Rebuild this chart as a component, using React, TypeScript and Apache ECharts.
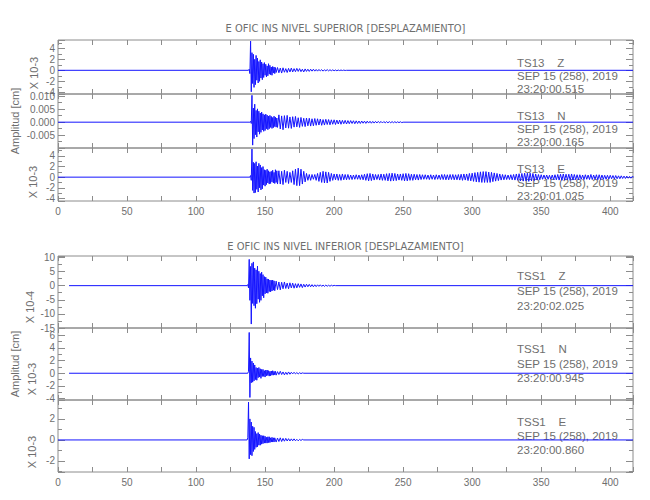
import React, { useEffect, useRef } from "react";
import * as echarts from "echarts";

// ---------------- data ----------------
const groupTitles = [
  "E OFIC INS NIVEL SUPERIOR [DESPLAZAMIENTO]",
  "E OFIC INS NIVEL INFERIOR [DESPLAZAMIENTO]",
];
const stationLabels = [
  "TS13\u00a0\u00a0\u00a0\u00a0Z",
  "TS13\u00a0\u00a0\u00a0\u00a0N",
  "TS13\u00a0\u00a0\u00a0\u00a0E",
  "TSS1\u00a0\u00a0\u00a0\u00a0Z",
  "TSS1\u00a0\u00a0\u00a0\u00a0N",
  "TSS1\u00a0\u00a0\u00a0\u00a0E",
];
const dateLabels = [
  "SEP 15 (258), 2019",
  "SEP 15 (258), 2019",
  "SEP 15 (258), 2019",
  "SEP 15 (258), 2019",
  "SEP 15 (258), 2019",
  "SEP 15 (258), 2019",
];
const timeLabels = [
  "23:20:00.515",
  "23:20:00.165",
  "23:20:01.025",
  "23:20:02.025",
  "23:20:00.945",
  "23:20:00.860",
];
const multiplierLabels = ["X 10-3", "", "X 10-3", "X 10-4", "X 10-3", "X 10-3"];
const yAxisTitle = "Amplitud [cm]";

const xMin = 0;
const xMax = 416.5;
const xTickStep = 25;
const xLabelStep = 50;
const xLabelMax = 400;

const yMins = [-4.3, -0.0099, -4.5, -15, -4.2, -3.05];
const yMaxs = [5.5, 0.0108, 5.5, 10.5, 7.1, 3.8];
const yMajorSteps = [2, 0.005, 2, 5, 2, 2];
const yDecimals = [0, 3, 0, 0, 0, 0];

// trace start times, onsets (0.5 s sampling), coda starts (1 s sampling)
const traceStarts = [0, 0, 0, 8, 8, 0];
const strongOnsets = [138.5, 139.5, 139.5, 137.5, 138, 137.5];
const codaStarts = [159, 160, 160, 158, 158, 158];
const valueScales = [1, 0.001, 1, 1, 1, 1];

const ts13ZStrong = [0.2,-0.6,5.3,-3.9,3.2,-2.4,2.9,-3.1,2.0,-2.6,2.7,-1.8,2.2,-2.3,1.6,-2.0,1.9,-1.4,1.5,-1.7,1.2,-1.3,1.4,-0.9,1.1,-1.2,0.8,-1.0,1.2,-0.7,0.9,-0.8,0.6,-0.9,0.7,-0.5,0.6,-0.6,0.5,-0.4];
const ts13ZCoda = [0.5,-0.45,0.4,-0.5,0.45,-0.35,0.3,-0.4,0.35,-0.3,0.4,-0.3,0.3,-0.25,0.35,-0.2,0.3,-0.25,0.2,-0.3,0.25,-0.2,0.2,-0.2,0.2,-0.15,0.2,-0.15,0.15,-0.15,0.15,-0.12,0.12,-0.15,0.1,-0.1,0.12,-0.1,0.1,-0.08,0.08,-0.08,0.06,-0.08,0.05,-0.05,0.05,-0.04,0.04,-0.03];

const ts13NStrong = [0.3,-0.5,10.3,-8.8,5.4,-6.3,6.9,-4.8,4.5,-5.7,5.1,-3.7,4.2,-4.6,3.5,-3.9,3.9,-3.0,3.2,-3.5,2.8,-3.2,3.1,-2.5,2.7,-2.9,2.3,-2.5,2.6,-2.0,2.2,-2.4,1.8,-2.1,2.3,-1.7,1.9,-1.9,1.6,-2.0];
const ts13NCoda = [
  2.8,-2.6,2.4,-2.9,2.5,-2.2,2.6,-2.3,2.0,-2.4,
  2.1,-1.9,2.2,-1.8,1.7,-2.0,1.8,-1.6,1.5,-1.7,
  1.6,-1.4,1.5,-1.5,1.3,-1.4,1.4,-1.2,1.3,-1.1,
  1.2,-1.2,1.0,-1.1,1.1,-0.9,1.0,-1.0,0.9,-0.8,
  0.9,-0.9,0.8,-0.7,0.8,-0.8,0.7,-0.6,0.7,-0.7,
  0.6,-0.6,0.6,-0.5,0.55,-0.6,0.5,-0.5,0.45,-0.5,
  0.45,-0.4,0.4,-0.45,0.4,-0.35,0.35,-0.4,0.3,-0.35,
  0.3,-0.3,0.3,-0.25,0.28,-0.3,0.25,-0.25,0.22,-0.25,
  0.2,-0.22,0.2,-0.2,0.18,-0.2,0.15,-0.18,0.15,-0.15,
];

const ts13EStrong = [0.3,-0.6,5.3,-2.5,2.8,-3.0,2.6,-2.9,2.9,-2.3,2.1,-2.8,2.6,-2.0,2.3,-2.4,1.8,-2.2,2.0,-1.5,1.4,-1.7,1.3,-1.4,1.5,-1.1,1.2,-1.3,1.0,-1.2,1.1,-0.9,1.3,-1.1,0.9,-1.2,1.4,-1.0,1.2,-1.3];
const ts13ECoda = [
  1.2,-1.3,1.1,-1.4,1.3,-1.0,1.1,-1.2,0.9,-1.0,
  1.2,-1.4,1.5,-1.6,1.7,-1.6,1.5,-1.3,1.1,-0.9,
  0.7,-0.6,0.5,-0.6,0.5,-0.4,0.5,-0.6,0.7,-0.8,
  0.9,-1.0,1.1,-1.1,1.0,-1.1,0.9,-0.8,0.7,-0.6,
  0.6,-0.5,0.6,-0.6,0.5,-0.6,0.6,-0.5,0.5,-0.5,
  0.5,-0.45,0.4,-0.45,0.4,-0.4,0.45,-0.4,0.4,-0.45,
  0.45,-0.5,0.55,-0.6,0.65,-0.7,0.7,-0.65,0.6,-0.55,
  0.5,-0.45,0.5,-0.55,0.6,-0.6,0.55,-0.6,0.65,-0.7,
  0.7,-0.75,0.75,-0.7,0.7,-0.65,0.6,-0.55,0.6,-0.6,
  0.65,-0.7,0.7,-0.7,0.65,-0.6,0.55,-0.6,0.55,-0.5,
  0.5,-0.55,0.5,-0.45,0.45,-0.4,0.45,-0.4,0.4,-0.45,
  0.45,-0.4,0.4,-0.45,0.45,-0.4,0.4,-0.45,0.5,-0.45,
  0.5,-0.5,0.45,-0.5,0.5,-0.45,0.5,-0.5,0.45,-0.5,
  0.5,-0.55,0.55,-0.6,0.6,-0.55,0.6,-0.65,0.7,-0.7,
  0.75,-0.8,0.85,-0.9,0.9,-0.95,1.0,-1.0,1.05,-1.0,
  1.05,-1.0,0.95,-1.0,0.9,-0.85,0.8,-0.75,0.7,-0.65,
  0.6,-0.55,0.5,-0.5,0.45,-0.45,0.4,-0.45,0.45,-0.5,
  0.5,-0.55,0.6,-0.6,0.65,-0.7,0.7,-0.75,0.75,-0.7,
  0.75,-0.8,0.75,-0.7,0.7,-0.65,0.6,-0.55,0.5,-0.5,
  0.45,-0.4,0.4,-0.35,0.4,-0.4,0.35,-0.4,0.4,-0.45,
  0.45,-0.5,0.5,-0.55,0.55,-0.6,0.6,-0.55,0.55,-0.5,
  0.55,-0.6,0.6,-0.55,0.5,-0.5,0.45,-0.5,0.45,-0.4,
  0.4,-0.45,0.45,-0.4,0.4,-0.45,0.5,-0.45,0.4,-0.4,
  0.45,-0.5,0.45,-0.45,0.4,-0.4,0.35,-0.4,0.35,-0.35,
  0.35,-0.3,0.3,-0.35,0.3,-0.3,0.25,-0.3,0.25,-0.25,
  0.2,-0.25,0.2,-0.2,0.15,-0.2,0.15,
];

const tss1ZStrong = [0.4,-0.8,9.3,-5.2,6.8,-13.6,7.9,-6.3,8.4,-7.1,6.2,-8.0,5.6,-6.4,6.9,-4.8,5.1,-5.9,4.3,-5.2,4.8,-3.6,3.9,-4.3,3.2,-2.9,3.0,-2.6,2.4,-2.7,2.3,-2.1,2.0,-2.2,1.9,-1.9,2.0,-1.6,1.7,-1.8];
const tss1ZCoda = [1.6,-1.4,1.3,-1.5,1.2,-1.1,1.3,-1.0,0.9,-1.1,1.0,-0.8,0.9,-0.9,0.7,-0.8,0.7,-0.6,0.6,-0.7,0.5,-0.5,0.5,-0.4,0.45,-0.4,0.35,-0.4,0.3,-0.35,0.3,-0.25,0.3,-0.25,0.2,-0.25,0.2,-0.2,0.15,-0.2,0.15,-0.1,0.1];

const tss1NStrong = [0.3,6.4,-3.8,2.4,-1.5,1.9,-1.4,1.6,-1.2,1.3,-1.0,0.9,-1.1,0.8,-0.7,0.9,-0.6,0.7,-0.8,0.6,-0.5,0.6,-0.5,0.4,-0.6,0.5,-0.4,0.5,-0.35,0.4,-0.45,0.3,-0.4,0.35,-0.3,0.4,-0.3,0.3,-0.25,0.3];
const tss1NCoda = [-0.3,0.25,-0.2,0.3,-0.2,0.2,-0.25,0.15,-0.2,0.2,-0.15,0.15,-0.1,0.15,-0.1,0.1,-0.1,0.08,-0.06,0.05];

const tss1EStrong = [0.2,3.6,-1.8,2.0,-1.4,1.7,-1.5,1.3,-1.1,1.2,-0.9,0.8,-0.7,0.6,-0.65,0.7,-0.5,0.55,-0.5,0.45,-0.4,0.4,-0.35,0.4,-0.3,0.35,-0.3,0.25,-0.3,0.3,-0.25,0.3,-0.25,0.2,-0.2,0.25,-0.2,0.2,-0.2,0.2];
const tss1ECoda = [-0.2,0.18,-0.15,0.2,-0.15,0.15,-0.12,0.15,-0.1,0.12,-0.1,0.1,-0.08,0.1,-0.08,0.06,-0.08,0.05,-0.05,0.05];

const strongValues = [ts13ZStrong, ts13NStrong, ts13EStrong, tss1ZStrong, tss1NStrong, tss1EStrong];
const codaValues = [ts13ZCoda, ts13NCoda, ts13ECoda, tss1ZCoda, tss1NCoda, tss1ECoda];

// ---------------- layout / style ----------------
const GRID_LEFT = 58;
const GRID_WIDTH = 575;
const PANEL_TOPS = [40, 94, 148, 256, 328, 400];
const PANEL_HEIGHTS = [54, 54, 53, 72, 72, 72];
const LABELLED_X = [false, false, true, false, false, true];
const STRONG_STEP = 0.5;
const CODA_STEP = 1;
const AXIS_COLOR = "#8c8c8c";
const TEXT_COLOR = "#6e6e6e";
const TRACE_COLOR = "#1414ff";
const FONT = "'Liberation Sans', Arial, sans-serif";
const TITLE_FONT = "'Liberation Sans Narrow', 'DejaVu Sans Condensed', sans-serif";
const TITLE_Y = [28, 246];
const ANNOT_X = 517;
const ANNOT_Y = [
  [63, 76, 89],
  [116, 129, 142],
  [169, 183, 196],
  [276, 291, 306],
  [349, 364, 378],
  [422, 436, 450],
];
const MULT_X = [34, 34, 33, 30, 32, 32];
const MULT_Y = [73, 0, 182, 307, 379, 452];
const AMP_X = 15;
const AMP_Y = [121, 364];

function buildTrace(i: number): number[][] {
  const pts: number[][] = [[traceStarts[i], 0], [strongOnsets[i] - STRONG_STEP, 0]];
  strongValues[i].forEach((v, k) => pts.push([strongOnsets[i] + k * STRONG_STEP, v * valueScales[i]]));
  codaValues[i].forEach((v, k) => pts.push([codaStarts[i] + k * CODA_STEP, v * valueScales[i]]));
  const last = pts[pts.length - 1][0];
  if (last < xMax) pts.push([last + CODA_STEP, 0], [xMax, 0]);
  return pts;
}

function isMultiple(v: number, step: number) {
  const r = v / step;
  return Math.abs(r - Math.round(r)) < 1e-6;
}

function buildOption(): any {
  const grids: any[] = [];
  const xAxes: any[] = [];
  const yAxes: any[] = [];
  const series: any[] = [];
  const graphics: any[] = [];

  for (let i = 0; i < 6; i++) {
    grids.push({
      left: GRID_LEFT,
      top: PANEL_TOPS[i],
      width: GRID_WIDTH,
      height: PANEL_HEIGHTS[i],
      show: true,
      borderColor: AXIS_COLOR,
      borderWidth: 1,
      backgroundColor: "transparent",
    });
    const xCommon = {
      type: "value",
      gridIndex: i,
      min: xMin,
      max: xMax,
      interval: xTickStep,
      axisLine: { show: false, onZero: false },
      splitLine: { show: false },
      axisTick: { show: true, inside: true, length: 5, lineStyle: { color: AXIS_COLOR } },
    };
    xAxes.push({
      ...xCommon,
      position: "bottom",
      axisLabel: {
        show: LABELLED_X[i],
        color: TEXT_COLOR,
        fontSize: 10,
        fontFamily: FONT,
        margin: 5,
        formatter: (v: number) => (isMultiple(v, xLabelStep) && v <= xLabelMax ? String(Math.round(v)) : ""),
      },
    });
    xAxes.push({ ...xCommon, position: "top", axisLabel: { show: false } });

    const span = yMaxs[i] - yMins[i];
    const yCommon = {
      type: "value",
      gridIndex: i,
      min: yMins[i],
      max: yMaxs[i],
      splitNumber: Math.round(span / yMajorSteps[i]),
      axisLine: { show: false, onZero: false },
      splitLine: { show: false },
      minorSplitLine: { show: false },
      axisTick: { show: true, inside: true, length: 7, lineStyle: { color: AXIS_COLOR } },
      minorTick: { show: true, splitNumber: 2, length: 4, lineStyle: { color: AXIS_COLOR } },
    };
    const dec = yDecimals[i];
    const step = yMajorSteps[i];
    yAxes.push({
      ...yCommon,
      position: "left",
      axisLabel: {
        show: true,
        color: TEXT_COLOR,
        fontSize: 10,
        fontFamily: FONT,
        margin: 3,
        formatter: (v: number) => (isMultiple(v, step) ? (dec > 0 ? v.toFixed(dec) : String(Math.round(v))) : ""),
      },
    });
    yAxes.push({ ...yCommon, position: "right", axisLabel: { show: false } });

    series.push({
      type: "line",
      xAxisIndex: 2 * i,
      yAxisIndex: 2 * i,
      data: buildTrace(i),
      showSymbol: false,
      symbol: "none",
      silent: true,
      lineStyle: { width: 1, color: TRACE_COLOR },
    });

    const texts = [stationLabels[i], dateLabels[i], timeLabels[i]];
    texts.forEach((t, k) => {
      graphics.push({
        type: "text",
        x: ANNOT_X,
        y: ANNOT_Y[i][k],
        silent: true,
        style: {
          text: t,
          fill: TEXT_COLOR,
          fontSize: 11.5,
          fontFamily: FONT,
          textAlign: "left",
          textVerticalAlign: "middle",
        },
      });
    });

    if (multiplierLabels[i]) {
      graphics.push({
        type: "text",
        x: MULT_X[i],
        y: MULT_Y[i],
        rotation: Math.PI / 2,
        silent: true,
        style: {
          text: multiplierLabels[i],
          fill: TEXT_COLOR,
          fontSize: 11,
          fontFamily: FONT,
          textAlign: "center",
          textVerticalAlign: "middle",
        },
      });
    }
  }

  groupTitles.forEach((t, g) => {
    graphics.push({
      type: "text",
      x: GRID_LEFT + GRID_WIDTH / 2,
      y: TITLE_Y[g],
      silent: true,
      style: {
        text: t,
        fill: TEXT_COLOR,
        fontSize: 11,
        fontFamily: TITLE_FONT,
        textAlign: "center",
        textVerticalAlign: "middle",
      },
    });
    graphics.push({
      type: "text",
      x: AMP_X,
      y: AMP_Y[g],
      rotation: Math.PI / 2,
      silent: true,
      style: {
        text: yAxisTitle,
        fill: TEXT_COLOR,
        fontSize: 11,
        fontFamily: FONT,
        textAlign: "center",
        textVerticalAlign: "middle",
      },
    });
  });

  return {
    animation: false,
    backgroundColor: "#ffffff",
    grid: grids,
    xAxis: xAxes,
    yAxis: yAxes,
    series,
    graphic: graphics,
  };
}

export default function App() {
  const ref = useRef<HTMLDivElement>(null);
  useEffect(() => {
    if (!ref.current) return;
    const chart = echarts.init(ref.current, null, { renderer: "svg" });
    chart.setOption(buildOption());
    return () => chart.dispose();
  }, []);
  return (
    <div
      ref={ref}
      style={{ position: "fixed", left: 0, top: 0, width: 650, height: 500, background: "#fff" }}
    />
  );
}
